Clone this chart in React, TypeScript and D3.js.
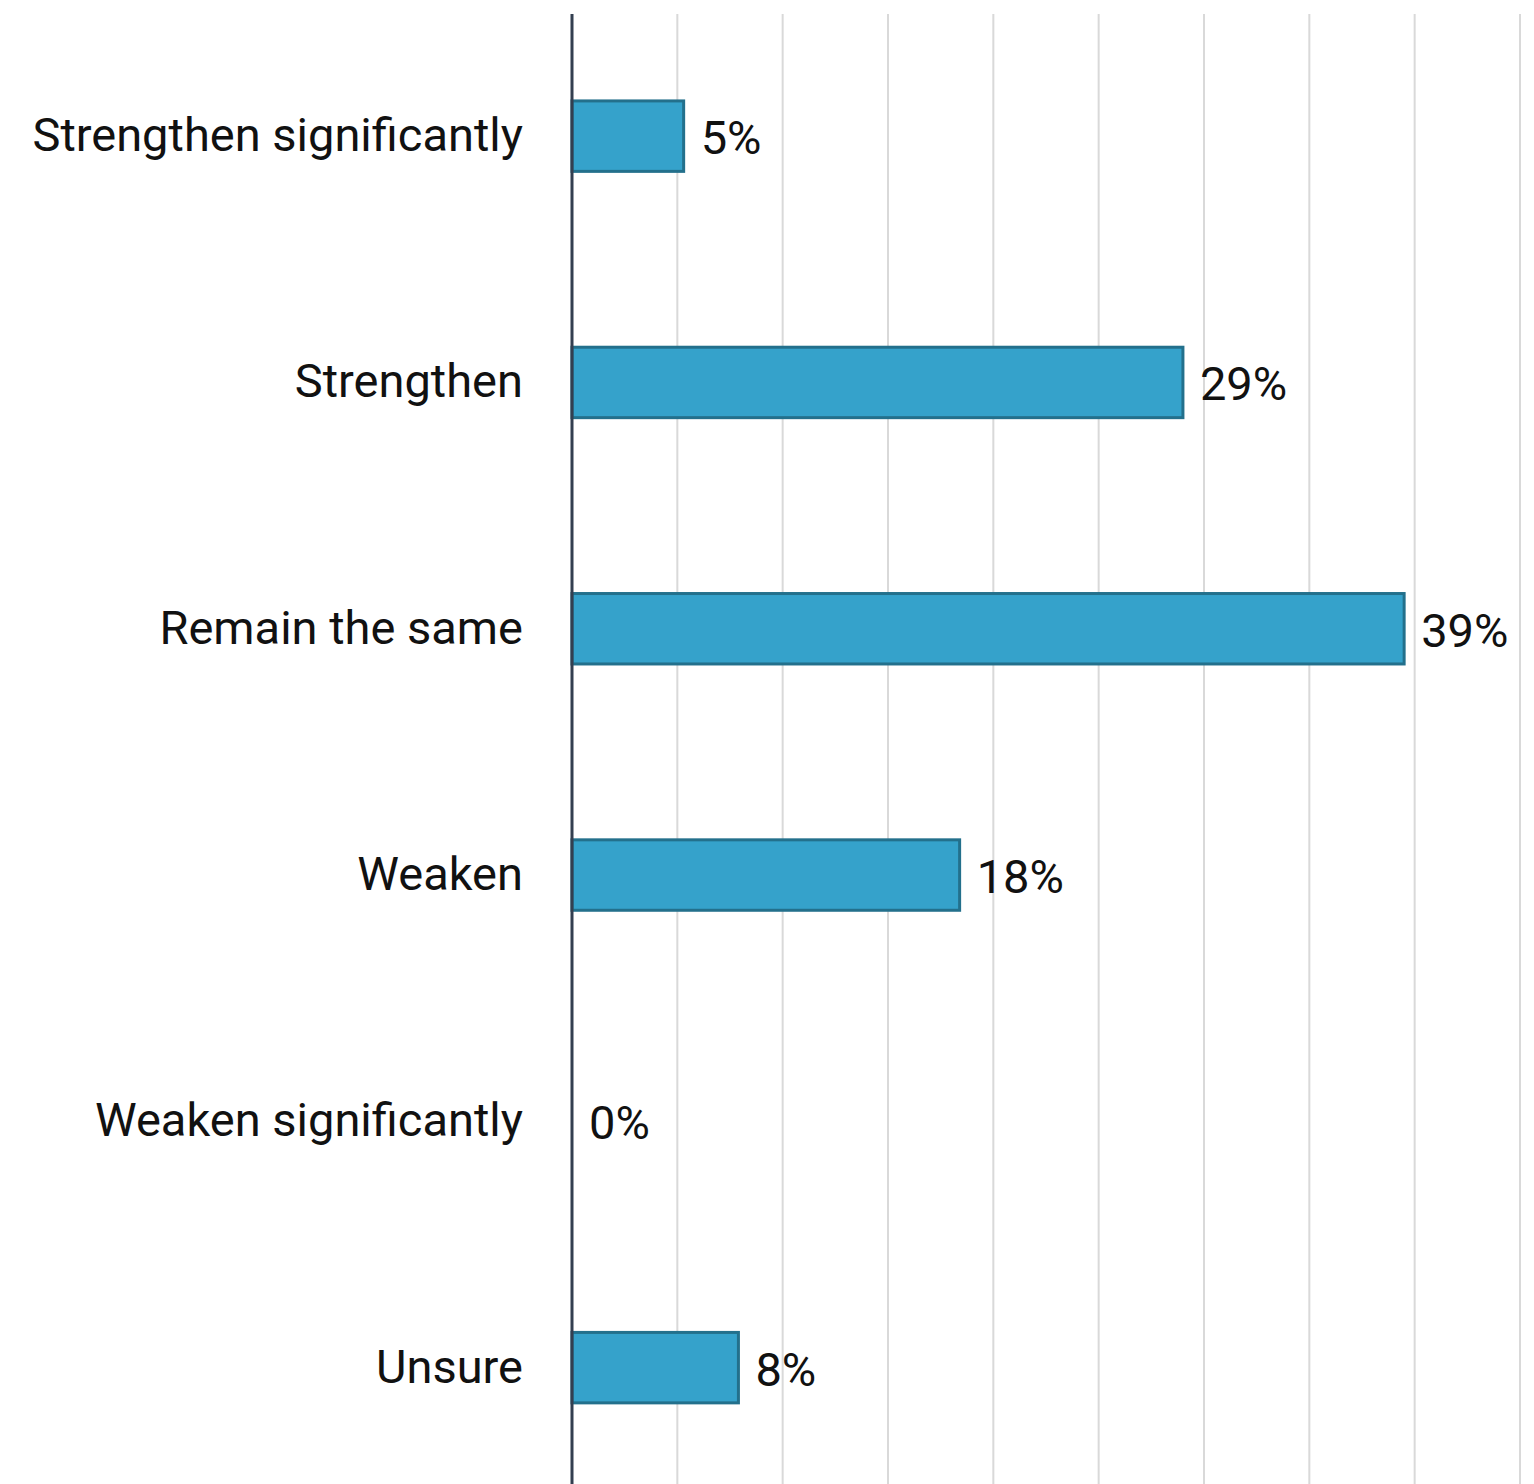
import React from "react";
import * as d3 from "d3";

const categories = [
  "Strengthen significantly",
  "Strengthen",
  "Remain the same",
  "Weaken",
  "Weaken significantly",
  "Unsure",
];
const values = [5.3, 29.0, 39.5, 18.4, 0, 7.9];
const labels = ["5%", "29%", "39%", "18%", "0%", "8%"];
const gridTicks = [5, 10, 15, 20, 25, 30, 35, 40, 45];

const W = 1534;
const H = 1484;
const FONT = "Roboto, 'Noto Sans', sans-serif";

export default function App() {
  const x = d3.scaleLinear().domain([0, 45]).range([572, 1520]);
  const y = d3
    .scaleBand<string>()
    .domain(categories)
    .range([13, 1490.8])
    .paddingInner(0.714)
    .paddingOuter(0.357);

  return (
    <svg
      width={W}
      height={H}
      style={{ position: "absolute", left: 0, top: 0, background: "#fff" }}
    >
      {gridTicks.map((t) => (
        <line
          key={t}
          x1={x(t)}
          x2={x(t)}
          y1={14}
          y2={H}
          stroke="#d9d9d9"
          strokeWidth={2}
        />
      ))}
      {categories.map((c, i) => {
        const yy = y(c)!;
        const bw = x(values[i]) - x(0);
        const cy = yy + y.bandwidth() / 2;
        return (
          <g key={c}>
            {values[i] > 0 && (
              <rect
                x={x(0)}
                y={yy}
                width={bw}
                height={y.bandwidth()}
                fill="#35a2cb"
                stroke="#23708c"
                strokeWidth={3}
              />
            )}
            <text
              x={x(values[i]) + 17}
              y={cy + 1}
              dy="0.36em"
              fontFamily={FONT}
              fontSize={47}
              fill="#111"
            >
              {labels[i]}
            </text>
            <text
              x={523}
              y={cy - 2}
              dy="0.36em"
              textAnchor="end"
              fontFamily={FONT}
              fontSize={47}
              fill="#111"
            >
              {c}
            </text>
          </g>
        );
      })}
      <line x1={x(0)} x2={x(0)} y1={14} y2={H} stroke="#333f50" strokeWidth={3} />
    </svg>
  );
}
